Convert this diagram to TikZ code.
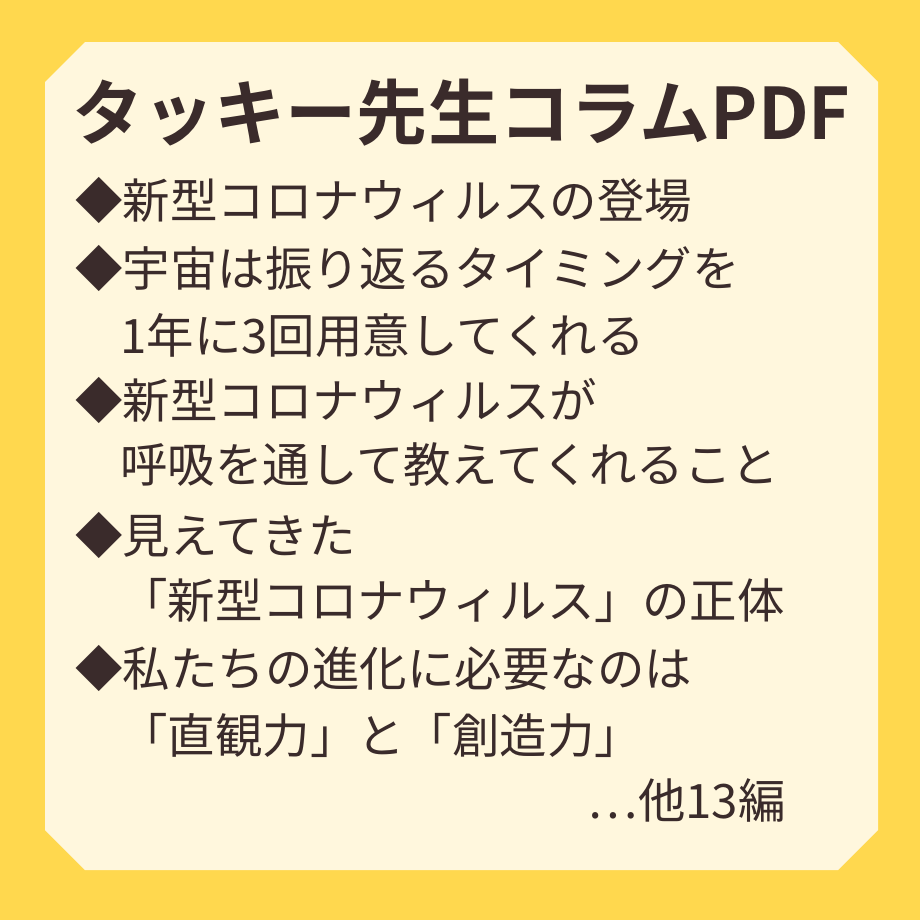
\documentclass[tikz,border=0pt]{standalone}
\usepackage{fontspec}
\newfontfamily\jpfont{Noto Sans CJK JP}
\newfontfamily\jpbold{Noto Sans CJK JP Bold}
\usetikzlibrary{positioning}
\definecolor{bgyellow}{HTML}{FFD84E}
\definecolor{cream}{HTML}{FFF7DD}
\definecolor{ink}{HTML}{3A2B2B}
\begin{document}
\begin{tikzpicture}[x=0.02cm,y=-0.02cm,
    title/.style={anchor=west, inner sep=0pt, text=ink, font=\jpbold\fontsize{40.5}{44}\selectfont},
    item/.style={anchor=west, inner sep=0pt, text=ink, font=\jpfont\fontsize{27}{30}\selectfont}
  ]
    % background and card
    \fill[bgyellow] (0,0) rectangle (920,920);
    \fill[cream] (85,42) -- (838,42) -- (878,82) -- (878,830) -- (838,870)
      -- (85,870) -- (45,830) -- (45,82) -- cycle;

    % title
    \node[title] (head) at (72,113) {タッキー先生コラムPDF};

    % items
    \node[item] (l1)  at (75,200) {◆新型コロナウィルスの登場};
    \node[item] (l2)  at (75,268) {◆宇宙は振り返るタイミングを};
    \node[item] (l3)  at (120,335) {1年に3回用意してくれる};
    \node[item] (l4)  at (75,400) {◆新型コロナウィルスが};
    \node[item] (l5)  at (120,465) {呼吸を通して教えてくれること};
    \node[item] (l6)  at (75,535) {◆見えてきた};
    \node[item] (l7)  at (120,600) {「新型コロナウィルス」の正体};
    \node[item] (l8)  at (75,668) {◆私たちの進化に必要なのは};
    \node[item] (l9)  at (120,735) {「直観力」と「創造力」};
    \node[item, anchor=east] (more) at (786,800) {⋯他13編};
\end{tikzpicture}
\end{document}
